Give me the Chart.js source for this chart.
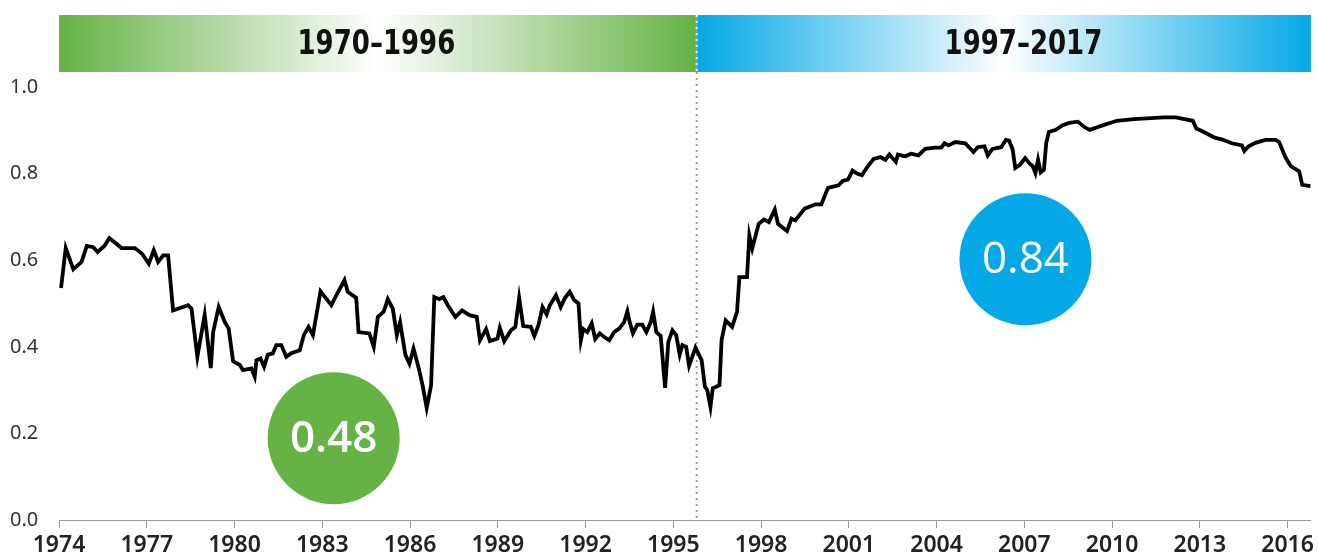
<!DOCTYPE html>
<html>
<head>
<meta charset="utf-8">
<script src="https://cdn.jsdelivr.net/npm/chart.js@4.4.1/dist/chart.umd.min.js"></script>
<style>
  html, body { margin: 0; padding: 0; background: #fff; }
  #wrap { width: 1318px; height: 556px; position: relative; }
</style>
</head>
<body>
<div id="wrap"><canvas id="corrChart"></canvas></div>
<script>
// decimal years and correlation values
const years = [
  1974.07, 1974.23, 1974.49, 1974.77, 1974.95, 1975.17, 1975.32, 1975.55, 1975.72, 1976.14,
  1976.59, 1976.84, 1977.07, 1977.24, 1977.39, 1977.56, 1977.73, 1977.90, 1978.41, 1978.53,
  1978.73, 1978.98, 1979.19, 1979.27, 1979.46, 1979.67, 1979.80, 1979.95, 1980.18, 1980.29,
  1980.58, 1980.69, 1980.75, 1980.89, 1981.01, 1981.14, 1981.31, 1981.43, 1981.60, 1981.77,
  1981.94, 1982.23, 1982.37, 1982.53, 1982.68, 1982.94, 1983.31, 1983.48, 1983.76, 1983.87,
  1984.16, 1984.24, 1984.61, 1984.76, 1984.90, 1985.10, 1985.24, 1985.41, 1985.55, 1985.66,
  1985.84, 1985.98, 1986.12, 1986.30, 1986.43, 1986.57, 1986.72, 1986.83, 1987.00, 1987.14,
  1987.29, 1987.55, 1987.78, 1988.03, 1988.28, 1988.39, 1988.60, 1988.73, 1988.99, 1989.07,
  1989.22, 1989.45, 1989.60, 1989.73, 1989.87, 1990.13, 1990.25, 1990.39, 1990.53, 1990.67,
  1990.78, 1990.99, 1991.15, 1991.30, 1991.46, 1991.61, 1991.76, 1991.84, 1991.92, 1992.06,
  1992.21, 1992.33, 1992.49, 1992.63, 1992.81, 1992.98, 1993.15, 1993.32, 1993.43, 1993.51,
  1993.62, 1993.77, 1993.94, 1994.08, 1994.23, 1994.31, 1994.42, 1994.57, 1994.72, 1994.83,
  1994.97, 1995.10, 1995.22, 1995.31, 1995.44, 1995.54, 1995.76, 1995.97, 1996.08, 1996.16,
  1996.27, 1996.35, 1996.58, 1996.65, 1996.79, 1997.01, 1997.18, 1997.26, 1997.52, 1997.60,
  1997.70, 1997.92, 1998.10, 1998.27, 1998.47, 1998.58, 1998.89, 1999.04, 1999.17, 1999.49,
  1999.86, 2000.06, 2000.29, 2000.65, 2000.79, 2000.97, 2001.13, 2001.28, 2001.45, 2001.62,
  2001.85, 2002.08, 2002.25, 2002.39, 2002.61, 2002.68, 2002.93, 2003.13, 2003.38, 2003.61,
  2003.95, 2004.16, 2004.27, 2004.41, 2004.64, 2004.98, 2005.26, 2005.41, 2005.64, 2005.75,
  2005.91, 2006.21, 2006.37, 2006.48, 2006.60, 2006.69, 2006.86, 2007.03, 2007.17, 2007.29,
  2007.38, 2007.47, 2007.56, 2007.67, 2007.75, 2007.84, 2008.08, 2008.31, 2008.54, 2008.83,
  2009.06, 2009.24, 2009.49, 2009.70, 2009.93, 2010.16, 2010.74, 2011.32, 2011.78, 2012.18,
  2012.47, 2012.76, 2012.88, 2013.05, 2013.28, 2013.51, 2013.80, 2014.09, 2014.44, 2014.52,
  2014.67, 2014.90, 2015.25, 2015.60, 2015.71, 2015.94, 2016.11, 2016.40, 2016.50, 2016.78
];
const values = [
  0.536, 0.628, 0.579, 0.596, 0.633, 0.630, 0.619, 0.633, 0.651, 0.628,
  0.628, 0.615, 0.592, 0.623, 0.596, 0.611, 0.611, 0.484, 0.496, 0.488,
  0.377, 0.474, 0.351, 0.434, 0.492, 0.457, 0.442, 0.367, 0.358, 0.346,
  0.350, 0.331, 0.369, 0.373, 0.354, 0.382, 0.385, 0.404, 0.404, 0.377,
  0.385, 0.392, 0.427, 0.446, 0.427, 0.528, 0.496, 0.519, 0.554, 0.527,
  0.513, 0.434, 0.431, 0.400, 0.469, 0.481, 0.510, 0.488, 0.427, 0.457,
  0.382, 0.361, 0.396, 0.350, 0.311, 0.259, 0.311, 0.515, 0.510, 0.515,
  0.496, 0.469, 0.484, 0.473, 0.469, 0.415, 0.441, 0.413, 0.419, 0.444,
  0.413, 0.438, 0.446, 0.513, 0.448, 0.446, 0.425, 0.450, 0.492, 0.475,
  0.496, 0.519, 0.492, 0.513, 0.527, 0.508, 0.500, 0.415, 0.441, 0.434,
  0.454, 0.418, 0.431, 0.423, 0.415, 0.434, 0.442, 0.457, 0.482, 0.457,
  0.431, 0.451, 0.451, 0.434, 0.457, 0.481, 0.434, 0.425, 0.305, 0.411,
  0.438, 0.427, 0.382, 0.404, 0.400, 0.356, 0.398, 0.369, 0.308, 0.300,
  0.261, 0.304, 0.311, 0.415, 0.461, 0.446, 0.481, 0.561, 0.561, 0.657,
  0.627, 0.684, 0.694, 0.688, 0.717, 0.684, 0.667, 0.696, 0.692, 0.719,
  0.729, 0.729, 0.767, 0.773, 0.783, 0.786, 0.807, 0.800, 0.796, 0.814,
  0.834, 0.838, 0.832, 0.844, 0.827, 0.844, 0.840, 0.846, 0.842, 0.857,
  0.860, 0.860, 0.870, 0.865, 0.873, 0.870, 0.850, 0.861, 0.863, 0.842,
  0.857, 0.861, 0.878, 0.876, 0.856, 0.813, 0.821, 0.836, 0.824, 0.817,
  0.801, 0.832, 0.803, 0.809, 0.871, 0.896, 0.901, 0.912, 0.917, 0.920,
  0.907, 0.901, 0.907, 0.912, 0.917, 0.922, 0.926, 0.928, 0.930, 0.930,
  0.926, 0.922, 0.904, 0.899, 0.891, 0.883, 0.878, 0.870, 0.865, 0.852,
  0.863, 0.871, 0.878, 0.878, 0.873, 0.836, 0.817, 0.805, 0.774, 0.771
];

const xTicks = [1974, 1977, 1980, 1983, 1986, 1989, 1992, 1995, 1998, 2001, 2004, 2007, 2010, 2013, 2016];
const yTicks = [0, 0.2, 0.4, 0.6, 0.8, 1.0];

const periods = ["1970\u20131996", "1997\u20132017"];
const periodSplit = 1995.8;
const periodLabelX = [1984.85, 2006.97];

const bubbleLabels = ["0.48", "0.84"];
const bubbleX = [1983.39, 2007.04];
const bubbleY = [0.189, 0.602];

const GREEN = "#65b245";
const BLUE = "#05a8e6";

const decorPlugin = {
  id: "decor",
  beforeDatasetsDraw(chart) {
    const { ctx, chartArea, scales } = chart;
    const x = scales.x;
    const splitX = x.getPixelForValue(periodSplit);
    const top = chartArea.top - 72;
    const bot = chartArea.top - 15;

    // period banners, fading to white in the middle
    const bands = [
      [chartArea.left, splitX, GREEN],
      [splitX, chartArea.right, BLUE],
    ];
    bands.forEach(([l, r, c], i) => {
      const g = ctx.createLinearGradient(l, 0, r, 0);
      g.addColorStop(0, c);
      g.addColorStop(0.5, "#ffffff");
      g.addColorStop(1, c);
      ctx.save();
      ctx.fillStyle = g;
      ctx.fillRect(l, top, r - l, bot - top);
      ctx.fillStyle = "#111";
      ctx.font = 'bold 34px "Liberation Sans Narrow", "DejaVu Sans Condensed", sans-serif';
      ctx.textAlign = "center";
      ctx.textBaseline = "middle";
      ctx.translate(x.getPixelForValue(periodLabelX[i]), (top + bot) / 2 + 2);
      ctx.scale(0.85, 1);
      ctx.fillText(periods[i], 0, 0);
      ctx.restore();
    });

    // dotted divider
    ctx.save();
    ctx.lineWidth = 2;
    ctx.setLineDash([2, 4]);
    ctx.strokeStyle = "#9a9a9a";
    ctx.beginPath();
    ctx.moveTo(splitX, bot);
    ctx.lineTo(splitX, chartArea.bottom);
    ctx.stroke();
    ctx.strokeStyle = "#ffffff";
    ctx.beginPath();
    ctx.moveTo(splitX, top);
    ctx.lineTo(splitX, bot);
    ctx.stroke();
    ctx.restore();
  },
  afterDatasetsDraw(chart) {
    const { ctx, scales } = chart;
    const colors = [GREEN, BLUE];
    bubbleLabels.forEach((t, i) => {
      const cx = scales.x.getPixelForValue(bubbleX[i]);
      const cy = scales.y.getPixelForValue(bubbleY[i]);
      ctx.save();
      ctx.fillStyle = colors[i];
      ctx.beginPath();
      ctx.arc(cx, cy, 66, 0, Math.PI * 2);
      ctx.fill();
      ctx.fillStyle = "#ffffff";
      ctx.font = (i === 0 ? "600 " : "") + '44px "Open Sans", Roboto, sans-serif';
      ctx.textAlign = "center";
      ctx.textBaseline = "middle";
      ctx.fillText(t, cx, cy + 1);
      ctx.restore();
    });
  },
};

new Chart(document.getElementById("corrChart"), {
  type: "line",
  data: {
    datasets: [
      {
        data: years.map((yr, i) => ({ x: yr, y: values[i] })),
        borderColor: "#000",
        borderWidth: 3.8,
        pointRadius: 0,
        tension: 0,
        fill: false,
      },
    ],
  },
  options: {
    responsive: true,
    maintainAspectRatio: false,
    animation: false,
    layout: { padding: { top: 87, left: 10, right: 6, bottom: 0 } },
    plugins: { legend: { display: false }, tooltip: { enabled: false } },
    scales: {
      x: {
        type: "linear",
        min: 1974,
        max: 2016.8,
        afterBuildTicks: (s) => { s.ticks = xTicks.map((v) => ({ value: v })); },
        afterFit: (s) => { s.height = 36; },
        grid: { drawOnChartArea: false, drawTicks: true, tickLength: 8, color: "#9a9a9a", lineWidth: 1 },
        border: { display: true, color: "#9a9a9a", width: 1 },
        ticks: {
          autoSkip: false,
          maxRotation: 0,
          padding: 4,
          color: "#222",
          font: { family: '"Noto Sans", sans-serif', size: 23, weight: "600" },
          callback: (v) => String(v),
        },
      },
      y: {
        min: 0,
        max: 1,
        afterBuildTicks: (s) => { s.ticks = yTicks.map((v) => ({ value: v })); },
        afterFit: (s) => { s.width = 49; },
        grid: { display: false },
        border: { display: false },
        ticks: {
          crossAlign: "far",
          color: "#333",
          font: { family: '"Noto Sans", sans-serif', size: 20 },
          callback: (v) => v.toFixed(1),
        },
      },
    },
  },
  plugins: [decorPlugin],
});
</script>
</body>
</html>
